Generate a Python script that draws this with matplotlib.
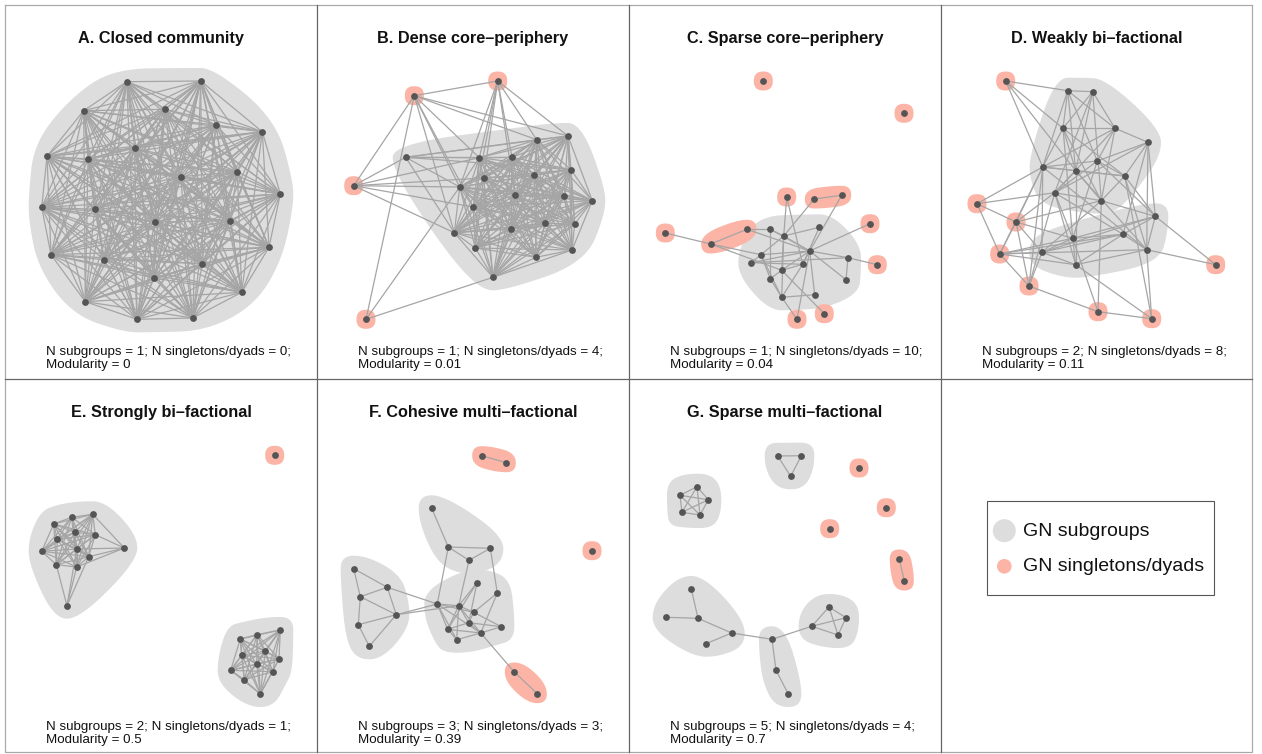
import numpy as np
import matplotlib
matplotlib.use("Agg")
import matplotlib.pyplot as plt
from matplotlib.patches import Polygon, Rectangle, Circle
from matplotlib.collections import LineCollection

plt.rcParams['font.family'] = ['Liberation Sans', 'DejaVu Sans']

# ---- layout of the grid (pixels) ----
W, H = 1262, 754
col_x = [5, 317, 629, 941, 1252]
row_y = [5, 379, 752]
row_zero = [5, 377]   # local y origin of node coordinates in each row

GREY_HULL = '#dddddd'
SALMON = '#fbb4a5'
EDGE_COL = '#a5a5a5'
NODE_COL = '#555555'

titles = ["A. Closed community", "B. Dense core\u2013periphery", "C. Sparse core\u2013periphery",
          "D. Weakly bi\u2013factional", "E. Strongly bi\u2013factional",
          "F. Cohesive multi\u2013factional", "G. Sparse multi\u2013factional"]
n_subgroups = [1, 1, 1, 2, 2, 3, 5]
n_singdyads = [0, 4, 10, 8, 1, 3, 4]
modularity = ["0", "0.01", "0.04", "0.11", "0.5", "0.39", "0.7"]

# ---- A. closed community ----
a_x = [121.7, 195.7, 78.7, 159.7, 211, 257.3, 129.7, 42, 83, 175.7, 232.3, 275.3, 36.7,
       89.7, 149.7, 225, 264, 46, 99, 197.3, 149, 236.7, 80.3, 132, 187.7]
a_y = [76.7, 76, 105.7, 104.3, 120, 126.7, 143.3, 151.3, 154, 171.7, 166.7, 189, 202.3,
       204.3, 217, 215.7, 242.3, 249.7, 254.7, 258.7, 273, 287.3, 296.7, 314.3, 313]
a_cliques = [list(range(25))]
a_edges = []
a_grey = [list(range(25))]
a_salmon = []

# ---- B. dense core-periphery ----
b_x = [97.3, 180.7, 36.7, 49, 88.7, 162.3, 195, 219.7, 251, 166.7, 217.3, 254, 142.7,
       198, 247.3, 275.3, 156.3, 137.3, 194, 228.3, 257.7, 158.3, 219, 255, 176]
b_y = [90.7, 76, 180.7, 314.3, 152.3, 152.7, 152.3, 134.7, 131, 173, 170, 164.7, 182,
       190.3, 191, 195.7, 202, 227.7, 223.7, 218.3, 219, 243, 252.3, 245, 272.3]
b_cliques = [list(range(5, 25))]
b_edges = [(4, 5), (4, 6), (4, 7), (4, 8), (4, 12), (4, 17), (4, 11),
           (0, 1), (0, 2), (0, 12), (0, 16), (0, 17), (0, 8), (0, 7), (0, 5),
           (1, 5), (1, 6), (1, 9), (1, 12), (1, 7), (1, 13), (1, 8), (1, 16),
           (2, 4), (2, 5), (2, 12), (2, 16), (2, 17), (2, 9),
           (3, 0), (3, 12), (3, 24)]
b_grey = [list(range(4, 25))]
b_salmon = [[0], [1], [2], [3]]

# ---- C. sparse core-periphery ----
c_x = [134.3, 275, 157.7, 185.3, 212.7, 241, 36.3, 118, 81.7, 248.3, 195.3, 168,
       141.3, 154.7, 190.3, 180.7, 132, 122.3, 219, 173.7, 152.7, 141.3, 217, 152.7, 185.7]
c_y = [76, 108.3, 192, 194, 190.3, 218.7, 228, 224.3, 239, 259.7, 308.7, 314.3,
       224.3, 231, 222.3, 246, 249.7, 257.7, 252.7, 259.3, 265.3, 273.7, 274.7, 292.3, 289.7]
c_cliques = []
c_edges = [(6, 8), (7, 8), (8, 16), (8, 20), (7, 12), (7, 15), (2, 13), (2, 19),
           (3, 4), (3, 13), (4, 15), (5, 15), (9, 18), (10, 20), (11, 15), (11, 23),
           (12, 13), (12, 21), (13, 14), (13, 16), (13, 20), (13, 23), (13, 15),
           (15, 16), (15, 17), (15, 18), (15, 19), (15, 22), (15, 24), (15, 20),
           (16, 17), (16, 21), (17, 19), (17, 18), (18, 22), (19, 20), (19, 23),
           (20, 21), (21, 23), (23, 24), (14, 19), (16, 23), (12, 15)]
c_grey = [list(range(12, 25))]
c_salmon = [[0], [1], [2], [3, 4], [5], [6], [7, 8], [9], [10], [11]]

# ---- D. weakly bi-factional ----
d_x = [64.7, 36, 75, 58.7, 88, 157, 210.7, 274.7, 126.7, 151.7, 122, 174, 207, 156.3,
       101.7, 134.7, 183.7, 113.7, 160.3, 214.3, 182, 131.7, 101, 134.7, 205.7]
d_y = [76, 198.7, 217, 249, 281, 306.7, 313.7, 259.7, 85.7, 86.7, 123.3, 123.3, 137.3,
       156, 162, 165.7, 171, 187.7, 195.7, 211.3, 229.3, 233.3, 247.3, 259.7, 244.7]
d_cliques = []
d_edges = [(0, 8), (0, 10), (0, 14), (0, 15),
           (8, 9), (8, 10), (8, 14), (8, 15), (8, 13), (8, 11),
           (9, 10), (9, 11), (9, 17), (9, 15), (9, 18),
           (10, 11), (10, 14), (10, 15), (10, 16), (10, 18), (10, 21),
           (11, 12), (11, 14), (11, 13), (11, 17), (11, 18),
           (12, 13), (12, 17), (12, 16), (12, 19), (12, 24), (12, 20),
           (13, 14), (13, 16), (13, 17), (13, 19), (13, 21),
           (14, 15), (14, 16), (14, 1), (14, 2), (14, 3), (14, 4), (14, 22), (14, 24),
           (15, 16), (15, 17), (15, 18), (15, 23), (15, 24),
           (16, 18), (16, 19), (16, 24), (16, 6),
           (17, 1), (17, 2), (17, 4), (17, 21), (17, 23), (17, 18), (17, 20),
           (18, 19), (18, 2), (18, 22), (18, 5),
           (19, 20), (19, 24), (19, 7), (19, 21), (19, 22),
           (20, 21), (20, 22), (20, 23), (20, 24), (20, 3),
           (21, 22), (21, 23), (21, 2), (21, 3), (21, 5),
           (22, 23), (22, 3), (22, 4), (22, 2),
           (23, 24), (23, 6), (23, 3), (24, 7), (24, 6), (24, 3),
           (1, 2), (1, 3), (2, 3), (2, 4), (3, 4), (4, 5), (5, 6)]
d_grey = [list(range(8, 19)), list(range(19, 25))]
d_salmon = [[0], [1], [2], [3], [4], [5], [6], [7]]

# ---- E. strongly bi-factional ----
e_x = [269.7, 66.7, 87.7, 48.7, 69.7, 90.3, 52.3, 36.7, 71.7, 83.7, 119.3, 51.3, 71.7, 62,
       252, 275.3, 235.3, 260.3, 236.7, 274, 251.7, 225.7, 267.7, 239.3, 255.3]
e_y = [78.3, 140.3, 137.3, 147, 155.3, 157.7, 162.3, 174.3, 172, 179.7, 171, 187.7, 190, 228.7,
       257.7, 253, 262, 274, 278.3, 281.7, 287.3, 293.3, 294.7, 302.7, 317]
e_cliques = [[1, 2, 3, 4, 5, 6, 7, 8, 9, 11, 12], list(range(14, 25))]
e_edges = [(10, 2), (10, 5), (10, 9), (10, 8), (10, 12),
           (13, 11), (13, 12), (13, 9), (13, 8)]
e_grey = [list(range(1, 14)), list(range(14, 25))]
e_salmon = [[0]]

# ---- F. cohesive multi-factional ----
f_x = [164.7, 189.3, 275, 197.3, 220.3, 114.7, 131.3, 173.3, 152, 36.7, 70.3, 43.3, 79.3,
       41.3, 52.3, 160, 180.3, 120.3, 141.7, 156.7, 151.7, 130.7, 184.3, 163.7, 139.7]
f_y = [78.7, 85.7, 173.7, 295, 316.7, 131.3, 170, 171.3, 183.3, 191.7, 210.3, 219.7, 237.7,
       247.7, 269.3, 205.7, 216, 227, 228.7, 235.3, 245.7, 252.3, 249.7, 256, 262.7]
f_cliques = []
f_edges = [(0, 1), (3, 4), (3, 23),
           (5, 6), (6, 7), (6, 8), (7, 8), (6, 17), (8, 18), (7, 16),
           (9, 10), (9, 11), (10, 11), (11, 12), (10, 12), (12, 13), (11, 13), (13, 14),
           (14, 12), (10, 17), (12, 17), (12, 18),
           (15, 18), (15, 20), (16, 19), (16, 23), (17, 18), (17, 19), (17, 21), (17, 24),
           (17, 23), (18, 19), (18, 20), (18, 21), (18, 24), (18, 23), (19, 22), (19, 20),
           (20, 21), (20, 23), (20, 22), (21, 23), (21, 24), (24, 23), (23, 22), (15, 21)]
f_grey = [[5, 6, 7, 8], list(range(9, 15)), list(range(15, 25))]
f_salmon = [[0, 1], [2], [3, 4]]

# ---- G. sparse multi-factional ----
g_x = [230, 257.3, 200.7, 270.3, 275.3, 148.7, 172.3, 161.7, 68, 51, 79.3, 53, 71,
       62.3, 36.7, 69, 102.7, 77, 143, 147, 159.3, 200, 217, 182.7, 209]
g_y = [91, 130.7, 151.7, 182, 204, 79, 78.7, 99.3, 109.7, 118.3, 122.7, 135.3, 138,
       212, 240.3, 241.3, 256, 266.7, 262.3, 293.3, 317, 230, 240.7, 249.3, 258]
g_cliques = [[5, 6, 7], [8, 9, 10, 11, 12], [21, 22, 23, 24]]
g_edges = [(3, 4), (13, 15), (14, 15), (15, 16), (16, 17), (16, 18),
           (18, 19), (19, 20), (18, 23)]
g_grey = [[5, 6, 7], [8, 9, 10, 11, 12], [13, 14, 15, 16, 17], [18, 19, 20], [21, 22, 23, 24]]
g_salmon = [[0], [1], [2], [3, 4]]

panels = [
    (a_x, a_y, a_cliques, a_edges, a_grey, a_salmon),
    (b_x, b_y, b_cliques, b_edges, b_grey, b_salmon),
    (c_x, c_y, c_cliques, c_edges, c_grey, c_salmon),
    (d_x, d_y, d_cliques, d_edges, d_grey, d_salmon),
    (e_x, e_y, e_cliques, e_edges, e_grey, e_salmon),
    (f_x, f_y, f_cliques, f_edges, f_grey, f_salmon),
    (g_x, g_y, g_cliques, g_edges, g_grey, g_salmon),
]


def convex_hull(pts):
    pts = sorted(set(pts))
    if len(pts) < 3:
        return pts

    def cross(o, a, b):
        return (a[0] - o[0]) * (b[1] - o[1]) - (a[1] - o[1]) * (b[0] - o[0])
    lower = []
    for p in pts:
        while len(lower) >= 2 and cross(lower[-2], lower[-1], p) <= 0:
            lower.pop()
        lower.append(p)
    upper = []
    for p in reversed(pts):
        while len(upper) >= 2 and cross(upper[-2], upper[-1], p) <= 0:
            upper.pop()
        upper.append(p)
    return lower[:-1] + upper[:-1]


def blob(xs, ys, d=10, iters=4):
    # expand every node to a square, take the hull, then round it off
    pp = []
    for x, y in zip(xs, ys):
        pp += [(x - d, y - d), (x + d, y - d), (x + d, y + d), (x - d, y + d)]
    P = np.array(convex_hull(pp), dtype=float)
    for _ in range(iters):
        nxt = np.roll(P, -1, axis=0)
        Q = 0.75 * P + 0.25 * nxt
        R = 0.25 * P + 0.75 * nxt
        P = np.empty((2 * len(Q), 2))
        P[0::2] = Q
        P[1::2] = R
    return P


fig = plt.figure(figsize=(W / 100, H / 100), dpi=100)

# frame and grid lines
bg = fig.add_axes([0, 0, 1, 1])
bg.set_xlim(0, W)
bg.set_ylim(H, 0)
bg.axis('off')
bg.plot([col_x[0], col_x[-1], col_x[-1], col_x[0], col_x[0]],
        [row_y[0], row_y[0], row_y[-1], row_y[-1], row_y[0]], color='#aaaaaa', lw=0.9)
for cx in col_x[1:-1]:
    bg.plot([cx, cx], [row_y[0], row_y[-1]], color='#666666', lw=0.9)
bg.plot([col_x[0], col_x[-1]], [row_y[1], row_y[1]], color='#666666', lw=0.9)

axes = []
for r in range(2):
    for c in range(4):
        x0, x1 = col_x[c], col_x[c + 1]
        y0, y1 = row_y[r], row_y[r + 1]
        ax = fig.add_axes([x0 / W, 1 - y1 / H, (x1 - x0) / W, (y1 - y0) / H])
        ax.set_xlim(0, x1 - x0)
        ax.set_ylim(y1 - row_zero[r], y0 - row_zero[r])
        ax.axis('off')
        axes.append(ax)

for i, (xs, ys, cliques, edges, grey, salmon) in enumerate(panels):
    ax = axes[i]
    r = i // 4
    xs = np.array(xs)
    ys = np.array(ys)
    hulls = [(g, GREY_HULL, 13) for g in grey] + [(s, SALMON, 9.5) for s in salmon]
    for members, col, d in hulls:
        ax.add_patch(Polygon(blob(xs[members], ys[members], d=d), closed=True,
                             facecolor=col, edgecolor='none', zorder=1))
    all_edges = list(edges)
    for cl in cliques:
        for a in range(len(cl)):
            for b in range(a + 1, len(cl)):
                all_edges.append((cl[a], cl[b]))
    segs = [[(xs[a], ys[a]), (xs[b], ys[b])] for a, b in all_edges]
    ax.add_collection(LineCollection(segs, colors=EDGE_COL, linewidths=0.9, zorder=2))
    ax.scatter(xs, ys, s=24, c=NODE_COL, linewidths=0, zorder=3)

    w = col_x[i % 4 + 1] - col_x[i % 4]
    ax.text(w / 2, 33.5 + 1.7 * r, titles[i], ha='center', va='center',
            fontsize=11.7, fontweight='bold', color='#111111')
    ax.text(40.7, 350 + 2.7 * r,
            "N subgroups = %d; N singletons/dyads = %d;" % (n_subgroups[i], n_singdyads[i]),
            ha='left', va='baseline', fontsize=9.6, color='#111111')
    ax.text(40.7, 362.7 + 3.3 * r, "Modularity = %s" % modularity[i],
            ha='left', va='baseline', fontsize=9.6, color='#111111')

# legend panel
lg = axes[7]
lg.add_patch(Rectangle((45.7, 124.3), 227, 94, facecolor='white', edgecolor='#555555', lw=0.8))
lg.add_patch(Circle((63.3, 153.7), 11.5, facecolor=GREY_HULL, edgecolor='none'))
lg.add_patch(Circle((63.3, 189.3), 7.3, facecolor=SALMON, edgecolor='none'))
lg.text(81.7, 154, "GN subgroups", ha='left', va='center', fontsize=14, color='#111111')
lg.text(81.7, 189.3, "GN singletons/dyads", ha='left', va='center', fontsize=14, color='#111111')

fig.savefig("out.png", dpi=100)
